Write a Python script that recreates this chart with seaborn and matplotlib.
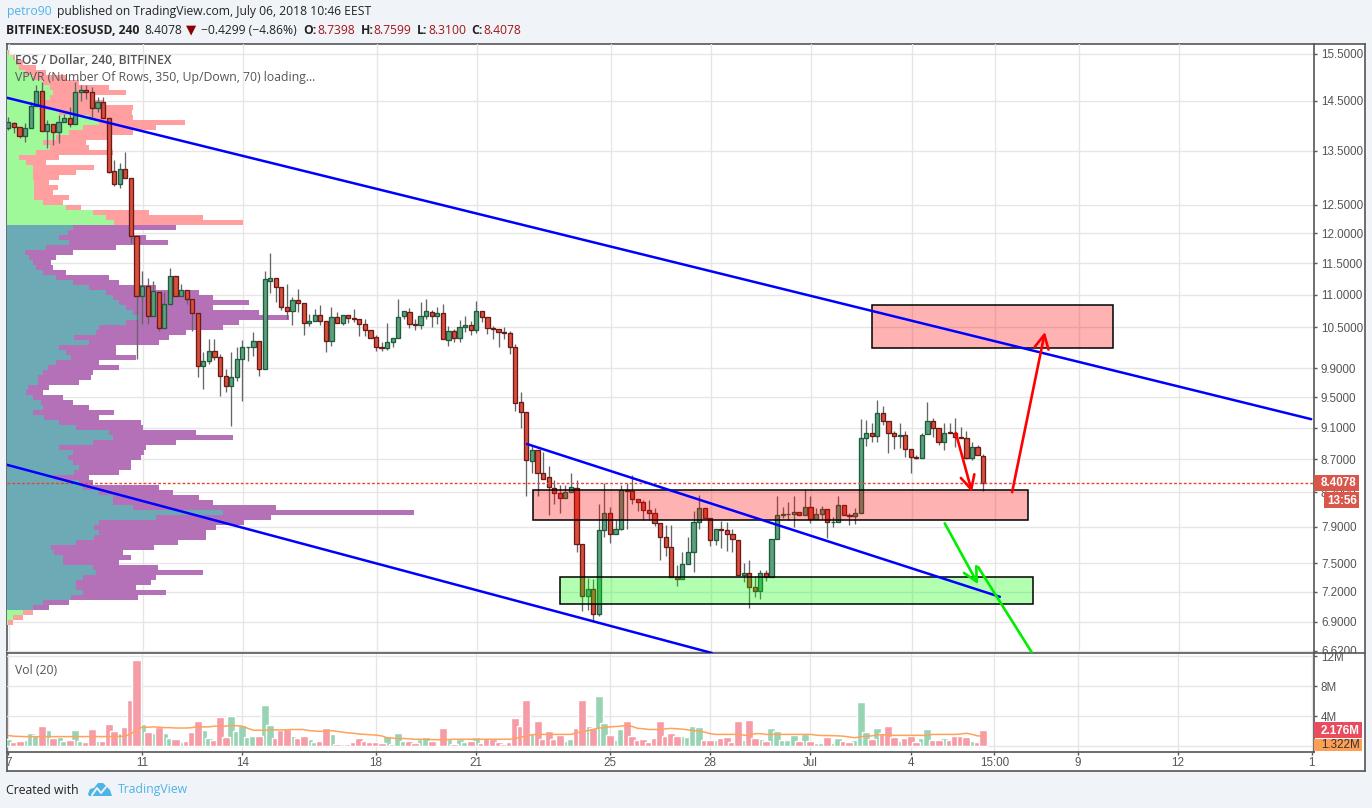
import numpy as np
import pandas as pd
import matplotlib
matplotlib.use("Agg")
import matplotlib.pyplot as plt
import seaborn as sns
from matplotlib.patches import Rectangle, Polygon
from matplotlib.ticker import FormatStrFormatter, NullLocator
from matplotlib.transforms import Bbox, TransformedBbox

# 4h candles, EOS/USD
opens = [13.95,14.05,13.97,13.78,13.95,14.39,14.70,13.89,14.03,13.87,
         14.07,14.15,14.03,14.68,14.72,14.68,14.35,14.47,14.15,13.12,
         12.88,13.16,12.99,11.96,10.98,11.14,10.67,11.04,10.49,10.85,
         11.29,10.98,11.07,10.93,10.71,9.94,10.01,10.15,10.07,9.80,
         9.65,9.78,10.03,10.21,10.21,10.30,9.89,11.22,11.27,11.12,
         10.81,10.75,10.92,10.87,10.56,10.59,10.68,10.59,10.30,10.65,
         10.56,10.68,10.64,10.62,10.55,10.46,10.35,10.21,10.19,10.28,
         10.34,10.67,10.73,10.55,10.53,10.67,10.73,10.67,10.71,10.31,
         10.44,10.34,10.50,10.53,10.46,10.75,10.65,10.49,10.47,10.43,
         10.41,10.21,9.44,9.30,8.68,8.82,8.53,8.48,8.35,8.29,
         8.23,8.30,8.35,7.71,7.16,7.23,6.98,7.87,8.06,7.82,
         7.88,8.32,8.31,8.22,8.19,8.09,8.06,7.94,7.79,7.68,
         7.35,7.33,7.49,7.62,7.95,8.11,8.00,7.75,7.88,7.87,
         7.82,7.75,7.38,7.40,7.25,7.21,7.40,7.36,7.76,8.03,
         8.05,8.05,8.07,8.04,8.13,7.99,8.05,8.10,7.95,7.95,
         8.15,8.03,8.02,8.06,8.97,9.03,8.99,9.29,9.19,9.03,
         8.99,9.01,8.83,8.73,8.72,9.02,9.19,9.09,8.91,9.04,
         9.03,8.98,8.97,8.72,8.85,8.74]
closes = [14.07,13.97,13.78,13.95,14.39,14.70,13.89,14.03,13.87,14.07,
          14.15,14.03,14.68,14.72,14.68,14.35,14.47,14.15,13.10,12.88,
          13.16,12.99,11.96,10.98,11.14,10.67,11.06,10.49,10.85,11.29,
          10.98,11.07,10.93,10.71,9.94,10.01,10.15,10.07,9.80,9.65,
          9.78,10.03,10.21,10.21,10.30,9.89,11.24,11.27,11.12,10.81,
          10.75,10.92,10.87,10.56,10.59,10.68,10.59,10.30,10.65,10.56,
          10.68,10.64,10.62,10.55,10.46,10.34,10.21,10.19,10.28,10.34,
          10.65,10.75,10.55,10.53,10.67,10.75,10.67,10.71,10.33,10.44,
          10.34,10.50,10.53,10.46,10.75,10.65,10.49,10.47,10.43,10.41,
          10.21,9.43,9.30,8.69,8.82,8.53,8.46,8.36,8.29,8.23,
          8.30,8.36,7.71,7.16,7.23,6.98,7.87,8.06,7.82,7.88,
          8.32,8.31,8.22,8.19,8.09,8.06,7.94,7.79,7.68,7.35,
          7.33,7.49,7.62,7.95,8.11,8.00,7.75,7.88,7.87,7.82,
          7.76,7.38,7.40,7.25,7.21,7.40,7.36,7.76,8.03,8.05,
          8.05,8.07,8.04,8.13,7.99,8.05,8.10,7.96,7.96,8.15,
          8.03,8.02,8.06,8.97,9.03,8.99,9.29,9.19,9.03,8.99,
          9.01,8.83,8.73,8.72,9.01,9.19,9.09,8.91,9.03,9.03,
          8.98,8.97,8.72,8.85,8.75,8.41]
highs = [14.17,14.07,13.97,14.05,14.47,14.82,14.89,14.11,14.03,14.21,
         14.23,14.37,14.89,14.82,14.82,14.78,14.57,14.57,14.15,13.33,
         13.27,13.47,12.99,11.96,11.37,11.26,11.22,11.04,11.04,11.43,
         11.29,11.17,11.07,10.93,10.71,10.13,10.33,10.33,10.11,9.89,
         10.13,10.21,10.31,10.21,10.43,10.30,11.37,11.67,11.27,11.12,
         11.17,10.96,11.09,10.87,10.70,10.78,10.84,10.59,10.81,10.73,
         10.68,10.68,10.78,10.62,10.62,10.46,10.38,10.28,10.56,10.34,
         10.93,10.75,10.79,10.62,10.88,10.93,10.76,10.81,10.85,10.52,
         10.47,10.61,10.67,10.59,10.90,10.75,10.65,10.52,10.47,10.50,
         10.44,10.25,9.58,9.30,8.86,8.82,8.79,8.62,8.44,8.39,
         8.39,8.53,8.45,7.71,7.34,7.33,8.16,8.41,8.13,7.98,
         8.38,8.41,8.50,8.22,8.21,8.21,8.12,7.94,7.92,7.92,
         7.48,7.62,7.79,8.08,8.27,8.11,8.00,7.88,7.97,7.96,
         7.88,7.75,7.50,7.54,7.37,7.43,7.43,7.76,8.26,8.13,
         8.19,8.26,8.07,8.34,8.25,8.11,8.14,8.10,8.01,8.26,
         8.15,8.06,8.12,9.21,9.20,9.16,9.46,9.38,9.19,9.06,
         9.16,9.06,8.83,8.75,9.03,9.44,9.22,9.09,9.16,9.16,
         9.22,9.11,9.05,8.91,8.88,8.76]
lows = [13.91,13.85,13.74,13.68,13.95,14.39,13.89,13.56,13.62,13.66,
        14.07,13.97,14.03,14.49,14.53,14.17,14.27,14.15,13.08,12.84,
        12.81,12.99,11.83,10.04,10.55,10.55,10.67,10.44,10.49,10.85,
        10.98,10.98,10.85,10.44,9.78,9.61,9.97,10.02,9.52,9.58,
        9.12,9.72,9.45,10.00,10.08,9.80,9.89,11.03,10.88,10.76,
        10.62,10.53,10.73,10.38,10.52,10.59,10.53,10.14,10.22,10.56,
        10.53,10.56,10.58,10.37,10.37,10.34,10.15,10.15,10.17,10.21,
        10.34,10.62,10.49,10.46,10.47,10.62,10.50,10.55,10.33,10.22,
        10.28,10.28,10.43,10.38,10.41,10.58,10.40,10.33,10.21,10.33,
        10.10,9.32,9.09,8.25,8.53,8.26,8.46,8.03,8.16,8.06,
        8.23,8.30,7.62,7.01,7.02,6.90,6.96,7.79,7.72,7.82,
        7.86,7.88,8.16,8.08,7.98,7.98,7.91,7.53,7.58,7.35,
        7.26,7.33,7.49,7.41,7.88,8.00,7.69,7.70,7.67,7.63,
        7.62,7.38,7.30,7.04,7.15,7.13,7.31,7.35,7.76,8.00,
        7.98,7.90,8.04,8.04,7.94,7.99,7.99,7.77,7.90,7.95,
        8.03,7.92,7.93,8.06,8.87,8.91,8.91,9.13,8.78,8.83,
        8.84,8.73,8.53,8.70,8.72,9.02,8.98,8.88,8.82,9.03,
        8.85,8.96,8.70,8.69,8.75,8.31]

# volume in millions and its 20 bar average
volumes = [.9,.5,.65,.8,1.7,1.45,2.65,2.1,1.05,1.25,
           .65,.8,2.1,.65,.55,2.25,.65,.65,2.9,2.0,
           1.7,2.5,6.1,11.5,2.9,1.85,1.7,2.5,1.7,1.05,
           .95,.55,.65,1.85,3.3,2.1,1.05,.8,3.85,1.2,
           4.0,2.0,2.8,1.2,1.35,1.35,5.45,2.8,1.05,2.1,
           2.25,1.35,1.05,1.35,.95,.55,.65,2.4,1.6,.25,
           .25,.25,.55,1.05,.65,.55,.55,.4,1.35,.25,
           1.7,.65,.65,.4,.95,1.2,.65,.15,2.4,.95,
           .25,.95,.55,.65,1.2,.4,1.05,.95,.55,.25,
           .55,3.75,2.65,6.1,1.6,3.3,.95,2.0,.95,1.45,
           .65,.95,2.4,6.1,2.65,2.4,6.65,3.05,1.45,.8,
           2.25,3.3,1.35,.8,.95,.55,1.05,3.3,1.35,1.7,
           1.35,1.35,1.2,2.65,2.5,.8,.8,.8,1.05,1.2,
           .55,3.3,.8,3.45,1.05,.95,.65,2.4,2.0,.8,
           .8,1.45,.65,1.6,.65,.4,.4,1.2,.4,1.05,
           .65,.55,.8,5.85,1.85,.95,2.4,1.7,2.65,1.2,
           .65,1.05,1.35,.55,1.05,2.25,.8,.8,1.05,.8,
           1.35,1.35,1.2,.65,.55,2.18]
vol_avg = [1.40,1.30,1.27,1.25,1.25,1.25,1.24,1.24,1.24,1.25,
           1.25,1.25,1.25,1.24,1.24,1.25,1.25,1.25,1.25,1.26,
           1.28,1.35,1.60,2.20,2.50,2.50,2.55,2.50,2.45,2.45,
           2.40,2.40,2.40,2.45,2.60,2.55,2.55,2.65,2.65,2.65,
           2.75,2.70,2.65,2.35,2.10,2.10,2.10,2.15,2.15,2.15,
           2.15,2.20,2.20,2.20,2.05,2.00,1.95,2.00,2.05,1.95,
           1.85,1.75,1.70,1.60,1.55,1.50,1.45,1.35,1.10,1.05,
           1.00,1.00,.95,.90,.90,.90,.85,.85,.80,.85,
           .90,.90,.90,.90,.90,.90,.90,.90,.90,.90,
           .90,1.00,1.20,1.30,1.50,1.55,1.55,1.55,1.55,1.55,
           1.55,1.55,1.75,1.95,2.05,2.20,2.40,2.45,2.55,2.60,
           2.65,2.75,2.60,2.35,2.30,2.20,2.20,2.20,2.30,2.35,
           2.30,2.25,2.15,2.05,2.00,1.85,1.65,1.55,1.55,1.55,
           1.55,1.55,1.45,1.40,1.65,1.65,1.55,1.55,1.55,1.55,
           1.55,1.55,1.55,1.55,1.55,1.45,1.40,1.40,1.38,1.35,
           1.30,1.20,1.10,1.25,1.30,1.35,1.50,1.50,1.45,1.42,
           1.42,1.42,1.42,1.42,1.42,1.42,1.55,1.55,1.55,1.55,
           1.55,1.60,1.70,1.55,1.35,1.32]

# volume profile, rows from the top price down
profile_up = [1,6,9,12,18,26,36,43,46,43,36,32,52,82,92,76,62,49,36,43,29,12,19,26,26,26,27,27,27,27,36,59,86,99,107,
              66,61,52,62,39,18,22,26,29,36,49,66,82,99,106,112,119,126,132,119,92,89,67,82,52,59,64,49,41,36,31,31,21,19,
              26,34,36,26,37,52,69,102,106,86,52,66,61,66,72,67,47,72,76,92,106,106,126,216,149,92,87,92,87,69,44,47,56,56,
              86,89,76,69,69,76,64,36,26,16,6,1]
profile_total = [2,8,16,29,39,59,72,102,119,86,96,126,125,126,178,149,126,102,79,82,106,52,39,87,69,52,42,51,46,62,56,74,142,196,236,
                 169,126,139,161,109,66,49,44,46,59,102,112,149,192,206,242,206,252,282,232,216,179,162,152,109,109,129,92,112,86,84,72,42,36,
                 56,66,82,107,92,134,136,189,226,169,139,137,134,124,124,112,82,86,152,166,192,206,269,407,264,237,209,199,199,171,147,116,124,112,
                 151,196,149,144,129,159,131,62,42,26,16,6]
profile_top, profile_bottom = 15.58, 6.865
value_area = (7.00, 12.15)

price_ticks = [15.5,14.5,13.5,12.5,12.0,11.5,11.0,10.5,9.9,9.5,9.1,8.7,8.3,7.9,7.5,7.2,6.9,6.62]
vol_ticks = [0,4,8,12]
date_ticks = [0,24,42,66,84,108,126,144,162,177,192,210,234]
date_labels = ["7","11","14","18","21","25","28","Jul","4","15:00","9","12","1"]

# drawings on the chart, (bar, price)
channel_top = ([-0.25,233.9],[14.56,9.21])
channel_bottom = ([-0.25,126.3],[8.63,6.60])
channel_mid = ([93.1,178],[8.89,7.15])
zones = [(155,198.3,10.19,10.84,(1,0,0,.3)),
         (94.1,183,7.98,8.33,(1,0,0,.3)),
         (99,184,7.08,7.36,(0,1,0,.3))]
arrows = [((180.2,8.30),(186.1,10.43),"#ff0000"),
          ((170.1,9.03),(173,8.30),"#ff0000"),
          ((168.1,7.94),(174.1,7.28),"#00ee00")]
green_line = ([174.1,183.8],[7.46,6.60])
last_price = 8.4078

W, H = 1372, 808
BG = "#f0f3f7"
LINE = "#555555"
GRID = "#e6e6e6"
TXT = "#555555"

sns.set_theme(style="white")
plt.rcParams["font.family"] = ["Liberation Sans", "DejaVu Sans"]

fig = plt.figure(figsize=(W/100, H/100), dpi=100, facecolor=BG)


def px_axes(x0, y0, x1, y1, **kw):
    return fig.add_axes([x0/W, 1-y1/H, (x1-x0)/W, (y1-y0)/H], **kw)


def px_text(x, y, s, **kw):
    kw.setdefault("va", "center")
    return fig.text(x/W, 1-y/H, s, **kw)


def px_box(x0, y0, x1, y1, color):
    fig.add_artist(Rectangle((x0/W, 1-y1/H), (x1-x0)/W, (y1-y0)/H, transform=fig.transFigure,
                             facecolor=color, edgecolor="none", zorder=10))


# white panel behind everything
ax_bg = px_axes(6.5, 43.5, 1365, 771)
ax_bg.set_xticks([])
ax_bg.set_yticks([])
ax_bg.set_facecolor("white")
for s in ax_bg.spines.values():
    s.set_color(LINE)
    s.set_linewidth(1.2)

bars = np.arange(len(opens))
xlim = (-0.25, 234.4)
ylim = (6.60, 15.72)
ybox = (7, 44, 1314, 653)

# volume profile goes in its own axes under the candles
ax_prof = px_axes(*ybox, zorder=1)
ax_prof.patch.set_alpha(0)
ax_prof.set_yscale("log")
ax_prof.set_ylim(*ylim)
ax_prof.set_xlim(0, 1307)
edges = np.geomspace(profile_top, profile_bottom, len(profile_up)+1)
for i in range(len(profile_up)):
    mid = (edges[i]+edges[i+1])/2
    inside = value_area[0] < mid < value_area[1]
    ax_prof.barh(edges[i+1], profile_total[i], height=edges[i]-edges[i+1], align="edge",
                 color="#b068b4" if inside else "#ff9999", alpha=.94, linewidth=0, antialiased=False)
    ax_prof.barh(edges[i+1], profile_up[i], height=edges[i]-edges[i+1], align="edge",
                 color="#68afb6" if inside else "#99ff99", alpha=.94, linewidth=0, antialiased=False)
ax_prof.set_xticks([])
ax_prof.yaxis.set_minor_locator(NullLocator())
ax_prof.set_yticks([])
for t in price_ticks:
    ax_prof.axhline(t, color=GRID, lw=1.0, zorder=0)
for d in date_ticks[:-1]:
    ax_prof.axvline((d+0.25)*5.57+1, color=GRID, lw=1.0, zorder=0)
for s in ax_prof.spines.values():
    s.set_visible(False)

# candles
ax = px_axes(*ybox, zorder=2)
ax.patch.set_alpha(0)
ax.set_yscale("log")
o, c = np.array(opens), np.array(closes)
up = c >= o
ax.vlines(bars, lows, highs, color="#666666", lw=.95, zorder=2)
ax.bar(bars[up], (c-o)[up], bottom=o[up], width=.75, color="#5f9f7f", edgecolor="#1b5e3c", linewidth=.95, zorder=3)
ax.bar(bars[~up], (o-c)[~up], bottom=c[~up], width=.75, color="#d9503a", edgecolor="#6b1a1a", linewidth=.95, zorder=3)

ax.axhline(last_price, color="#e8432e", lw=1.0, ls=(0, (2, 1.5)), zorder=3)

for x0, x1, lo, hi, col in zones:
    ax.add_patch(Rectangle((x0, lo), x1-x0, hi-lo, facecolor=col, edgecolor="black", lw=1.1, zorder=4))
for xs, ys in (channel_top, channel_bottom, channel_mid):
    ax.plot(xs, ys, color="#0000ff", lw=1.8, zorder=5)
ax.plot(*green_line, color="#00ee00", lw=1.9, zorder=6)
for start, end, col in arrows:
    ax.annotate("", xy=end, xytext=start, zorder=6,
                arrowprops=dict(arrowstyle="->,head_length=.55,head_width=.28", color=col, lw=1.9,
                                shrinkA=0, shrinkB=0, mutation_scale=18))

ax.set_xlim(*xlim)
ax.set_ylim(*ylim)
ax.set_xticks([])
ax.yaxis.tick_right()
ax.set_yticks(price_ticks)
ax.yaxis.set_major_formatter(FormatStrFormatter("%.4f"))
ax.yaxis.set_minor_locator(NullLocator())
ax.tick_params(axis="y", which="major", right=True, length=2.2, width=1, color=LINE,
               labelsize=8.4, labelcolor=TXT, pad=2.8)
for s in ["left", "top"]:
    ax.spines[s].set_visible(False)
for s in ["right", "bottom"]:
    ax.spines[s].set_color(LINE)
    ax.spines[s].set_linewidth(1.2)
clip = TransformedBbox(Bbox([[0, 1-653/H], [1, 1]]), fig.transFigure)
for lab in ax.get_yticklabels():
    lab.set_clip_box(clip)
    lab.set_clip_on(True)

# volume pane
ax_vol = px_axes(7, 654, 1314, 752, zorder=2)
ax_vol.patch.set_alpha(0)
vol_df = pd.DataFrame({"bar": bars, "volume": volumes, "side": np.where(up, "up", "down")})
sns.barplot(data=vol_df, x="bar", y="volume", hue="side", native_scale=True, dodge=False,
            palette={"up": "#98d4b4", "down": "#f59ca6"}, saturation=1, width=1.44,
            errorbar=None, legend=False, ax=ax_vol)
sns.lineplot(x=bars, y=vol_avg, color="#ffa25c", lw=1.1, ax=ax_vol, zorder=4)
ax_vol.set_xlim(*xlim)
ax_vol.set_ylim(-0.8, 12.27)
ax_vol.set_xlabel("")
ax_vol.set_ylabel("")
ax_vol.set_axisbelow(True)
ax_vol.yaxis.tick_right()
ax_vol.set_yticks(vol_ticks)
ax_vol.set_yticklabels(["", "4M", "8M", "12M"])
ax_vol.set_xticks(date_ticks)
ax_vol.set_xticklabels(date_labels)
ax_vol.grid(True, color=GRID, lw=1.0)
ax_vol.tick_params(axis="both", length=2.2, width=1, color=LINE, labelsize=8.4, labelcolor=TXT, pad=2.8)
ax_vol.tick_params(axis="x", bottom=True, pad=1.5)
ax_vol.tick_params(axis="y", right=True)
for s in ["left", "top"]:
    ax_vol.spines[s].set_visible(False)
for s in ["right", "bottom"]:
    ax_vol.spines[s].set_color(LINE)
    ax_vol.spines[s].set_linewidth(1.2)

# line across the price scale between panes
fig.add_artist(plt.Line2D([1314/W, 1365/W], [1-653/H]*2, color=LINE, lw=1.2, zorder=5))

# value tags on the scale
px_box(1314, 475, 1359, 491, "#d9574a")
px_box(1324, 492, 1359, 508, "#d9574a")
px_box(1314, 722, 1362, 738, "#e94c5f")
px_box(1314, 739, 1362, 751, "#ff9f55")
px_text(1321, 483.5, "8.4078", color="white", fontsize=8.4, fontweight="bold", zorder=11)
px_text(1327, 500.5, "13:56", color="white", fontsize=8.4, fontweight="bold", zorder=11)
px_text(1321, 730.5, "2.176M", color="white", fontsize=8.4, fontweight="bold", zorder=11)
px_text(1321, 745.5, "1.322M", color="#333333", fontsize=8.4, zorder=11)

# legends inside the panes
SANS = ["Open Sans", "DejaVu Sans"]
px_text(15, 60.5, "EOS / Dollar, 240, BITFINEX", color=TXT, fontsize=8.85, fontweight="semibold", family=SANS, zorder=11)
px_text(15, 77.5, "VPVR (Number Of Rows, 350, Up/Down, 70) loading...", color=TXT, fontsize=8.85, family=SANS, zorder=11)
px_text(15, 670.5, "Vol (20)", color=TXT, fontsize=8.85, family=SANS, zorder=11)

# header
DARK = "#222222"
RED = "#a31515"
BLUE = "#4db4e8"
HDR = 8.7
px_text(6.5, 11.5, "petro90", color=BLUE, fontsize=HDR, family=SANS)
px_text(57, 11.5, "published on TradingView.com, July 06, 2018 10:46 EEST", color=DARK, fontsize=HDR, family=SANS)
px_text(6.5, 30, "BITFINEX:EOSUSD, 240", color=DARK, fontsize=HDR, fontweight="bold", family=SANS)
px_text(144, 30, "8.4078", color=DARK, fontsize=HDR, family=SANS)
px_text(186, 30, "▼", color="#8b0000", fontsize=9.5, family=["DejaVu Sans"])
px_text(201, 30, "\u22120.4299 (\u22124.86%)", color=DARK, fontsize=HDR, family=SANS)
for xl, lab, xv, val in [(303, "O:", 317, "8.7398"), (361, "H:", 373, "8.7599"),
                         (417, "L:", 428, "8.3100"), (471, "C:", 483, "8.4078")]:
    px_text(xl, 30, lab, color=DARK, fontsize=HDR, fontweight="bold", family=SANS)
    px_text(xv, 30, val, color=RED, fontsize=HDR, family=SANS)

# footer
px_text(6, 790, "Created with", color=DARK, fontsize=8.85, family=SANS)
px_text(118, 790, "TradingView", color=BLUE, fontsize=8.85, family=SANS)
logo = [(88, 794), (90, 789), (94, 788), (98, 783), (103, 783), (107, 787), (110, 790), (112, 796), (89, 796)]
fig.add_artist(Polygon([(x/W, 1-y/H) for x, y in logo], closed=True, transform=fig.transFigure, facecolor=BLUE, edgecolor="none"))
fig.add_artist(plt.Line2D([x/W for x in (92, 97, 101, 106)], [1-y/H for y in (795, 788, 793, 787)], color=BG, lw=1.4))

fig.savefig("out.png", dpi=100, facecolor=BG)
